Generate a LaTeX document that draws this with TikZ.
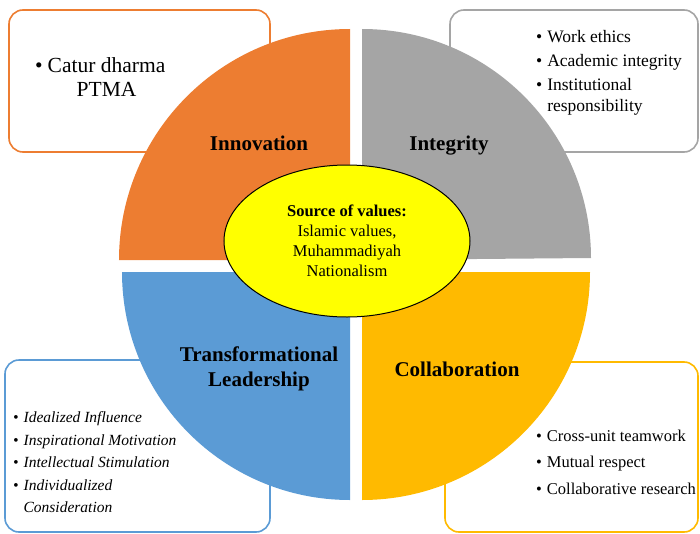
\documentclass[tikz,border=0pt]{standalone}
\usepackage{fontspec}
\setmainfont{Liberation Serif}
\usepackage{xcolor}
\definecolor{innovOrange}{HTML}{ED7D31}
\definecolor{integGray}{HTML}{A5A5A5}
\definecolor{leadBlue}{HTML}{5B9BD5}
\definecolor{collabGold}{HTML}{FFBA00}
\definecolor{valueYellow}{HTML}{FFFF00}
\usepackage{tikz}
\usetikzlibrary{shapes.geometric}
\tikzset{
    infobox/.style={
        rectangle,
        rounded corners=14pt,
        line width=1.6pt,
        fill=white,
        inner sep=0pt
    },
    bullets/.style={
        inner sep=0pt,
        anchor=west
    },
    pillar/.style={
        font=\fontsize{21}{25}\selectfont\bfseries,
        align=center
    },
    core/.style={
        ellipse,
        draw=black,
        line width=1pt,
        fill=valueYellow,
        minimum width=246pt,
        minimum height=152pt,
        inner sep=0pt,
        align=center,
        font=\fontsize{16.5}{20}\selectfont
    }
}
\newcommand{\bul}{\textbullet}

\begin{document}
\begin{tikzpicture}[x=1pt,y=1pt]
    \useasboundingbox (-356,-267) rectangle (344,266);

    % Boxes with the indicators of each value
    \node[infobox, draw=innovOrange, minimum width=261pt, minimum height=142pt] (innovBox) at (-216.5,185) {};
    \node[infobox, draw=integGray, minimum width=248pt, minimum height=142pt] (integBox) at (218,185) {};
    \node[infobox, draw=leadBlue, minimum width=265pt, minimum height=172pt] (leadBox) at (-218.5,-180) {};
    \node[infobox, draw=collabGold, minimum width=253pt, minimum height=170pt] (collabBox) at (215.5,-181) {};

    % Four quarters of the circle
    \fill[innovOrange] (-6,6) -- ++(-231,0) arc[start angle=180, end angle=90, radius=231] -- cycle;
    \fill[integGray] (6,6) -- ++(0,231) arc[start angle=90, end angle=0, radius=229] -- cycle;
    \fill[leadBlue] (-6,-6) -- ++(0,-228) arc[start angle=270, end angle=180, radius=228] -- cycle;
    \fill[collabGold] (6,-6) -- ++(228,0) arc[start angle=0, end angle=-90, radius=228] -- cycle;

    % Core values
    \node[core] (source) at (-9,25) {\textbf{Source of values:}\\Islamic values,\\Muhammadiyah\\Nationalism};

    % Names of the quarters
    \node[pillar] (innov) at (-97,123) {Innovation};
    \node[pillar] (integ) at (93,120) {Integrity};
    \node[pillar] (lead) at (-97,-102.5) {Transformational\\Leadership};
    \node[pillar] (collab) at (101,-103) {Collaboration};

    % Bullet lists
    \node[bullets, font=\fontsize{21.5}{24}\selectfont] (innovList) at (-321,186)
        {\begin{tabular}{@{}l@{\hspace{5pt}}c@{}}
            \bul & Catur dharma\\
                 & PTMA
        \end{tabular}};
    \node[bullets, font=\fontsize{17.5}{21}\selectfont] (integList) at (180,193)
        {\begin{tabular}{@{}l@{\hspace{5pt}}l@{}}
            \bul & Work ethics\\[3pt]
            \bul & Academic integrity\\[3pt]
            \bul & Institutional\\
                 & responsibility
        \end{tabular}};
    \node[bullets, font=\fontsize{15.5}{22}\selectfont\itshape] (leadList) at (-343,-197)
        {\begin{tabular}{@{}l@{\hspace{5pt}}l@{}}
            \bul & Idealized Influence\\[0.5pt]
            \bul & Inspirational Motivation\\[0.5pt]
            \bul & Intellectual Stimulation\\[0.5pt]
            \bul & Individualized\\
                 & Consideration
        \end{tabular}};
    \node[bullets, font=\fontsize{16.5}{26.5}\selectfont] (collabList) at (180,-196.5)
        {\begin{tabular}{@{}l@{\hspace{5pt}}l@{}}
            \bul & Cross-unit teamwork\\
            \bul & Mutual respect\\
            \bul & Collaborative research
        \end{tabular}};
\end{tikzpicture}
\end{document}
